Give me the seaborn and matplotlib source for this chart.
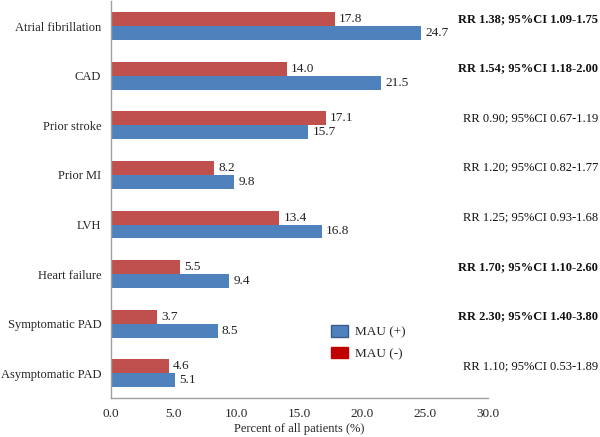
import numpy as np
import pandas as pd
import seaborn as sns
import matplotlib.pyplot as plt
from matplotlib.patches import Patch
from matplotlib.ticker import FixedLocator
from matplotlib.transforms import blended_transform_factory

# Data
categories = ["Atrial fibrillation", "CAD", "Prior stroke", "Prior MI", "LVH",
              "Heart failure", "Symptomatic PAD", "Asymptomatic PAD"]
mau_pos = [24.7, 21.5, 15.7, 9.8, 16.8, 9.4, 8.5, 5.1]
mau_neg = [17.8, 14.0, 17.1, 8.2, 13.4, 5.5, 3.7, 4.6]
rr_text = ["RR 1.38; 95%CI 1.09-1.75", "RR 1.54; 95%CI 1.18-2.00",
           "RR 0.90; 95%CI 0.67-1.19", "RR 1.20; 95%CI 0.82-1.77",
           "RR 1.25; 95%CI 0.93-1.68", "RR 1.70; 95%CI 1.10-2.60",
           "RR 2.30; 95%CI 1.40-3.80", "RR 1.10; 95%CI 0.53-1.89"]
rr_bold = [True, True, False, False, False, True, True, False]

df = pd.DataFrame({
    "category": categories * 2,
    "value": mau_neg + mau_pos,
    "group": ["MAU (-)"] * len(categories) + ["MAU (+)"] * len(categories),
})

sns.set_style("white")
plt.rcParams["font.family"] = ["Liberation Serif", "DejaVu Serif"]
plt.rcParams["font.size"] = 9

fig = plt.figure(figsize=(6, 4.37), dpi=100)
ax = fig.add_axes([0.185, 0.089, 0.628, 0.908])

sns.barplot(data=df, y="category", x="value", hue="group",
            hue_order=["MAU (-)", "MAU (+)"],
            palette={"MAU (-)": "#C0504D", "MAU (+)": "#4F81BD"},
            orient="h", width=0.56, gap=0, saturation=1, linewidth=0,
            legend=False, ax=ax)

for cont in ax.containers:
    ax.bar_label(cont, fmt="%.1f", padding=3, fontsize=9.5, color="#222222")

ax.set_xlim(0, 30)
ax.set_ylim(len(categories) - 0.5, -0.5)
ax.set_xticks(np.arange(0, 31, 5))
ax.set_xticklabels([f"{t:.1f}" for t in np.arange(0, 31, 5)])
ax.set_xlabel("Percent of all patients (%)", fontsize=9, labelpad=2)
ax.set_ylabel("")

ax.yaxis.set_minor_locator(FixedLocator(np.arange(-0.5, len(categories), 1)))
ax.tick_params(axis="y", which="major", length=0, pad=7, labelsize=9)
ax.tick_params(axis="y", which="minor", length=4, color="#898989", direction="out")
ax.tick_params(axis="x", length=4, color="#898989", direction="out", labelsize=9.5, pad=3)

for s in ["top", "right"]:
    ax.spines[s].set_visible(False)
for s in ["left", "bottom"]:
    ax.spines[s].set_color("#A0A0A0")
    ax.spines[s].set_linewidth(1.0)

# RR annotations at the right edge of the figure
tr = blended_transform_factory(fig.transFigure, ax.transData)
for i, (txt, b) in enumerate(zip(rr_text, rr_bold)):
    ax.text(0.997, i - 0.15, txt, transform=tr, ha="right", va="center",
            fontsize=9, fontweight="bold" if b else "normal", color="#111111")

handles = [Patch(facecolor="#4F81BD", edgecolor="#385D8A", label="MAU (+)"),
           Patch(facecolor="#C00000", edgecolor="#C00000", label="MAU (-)")]
fig.legend(handles=handles, loc="upper left", bbox_to_anchor=(0.532, 0.283),
           frameon=False, fontsize=9.5, handlelength=1.3, handleheight=1.0,
           labelspacing=0.6, handletextpad=0.5)

fig.savefig("out.png", dpi=100)
